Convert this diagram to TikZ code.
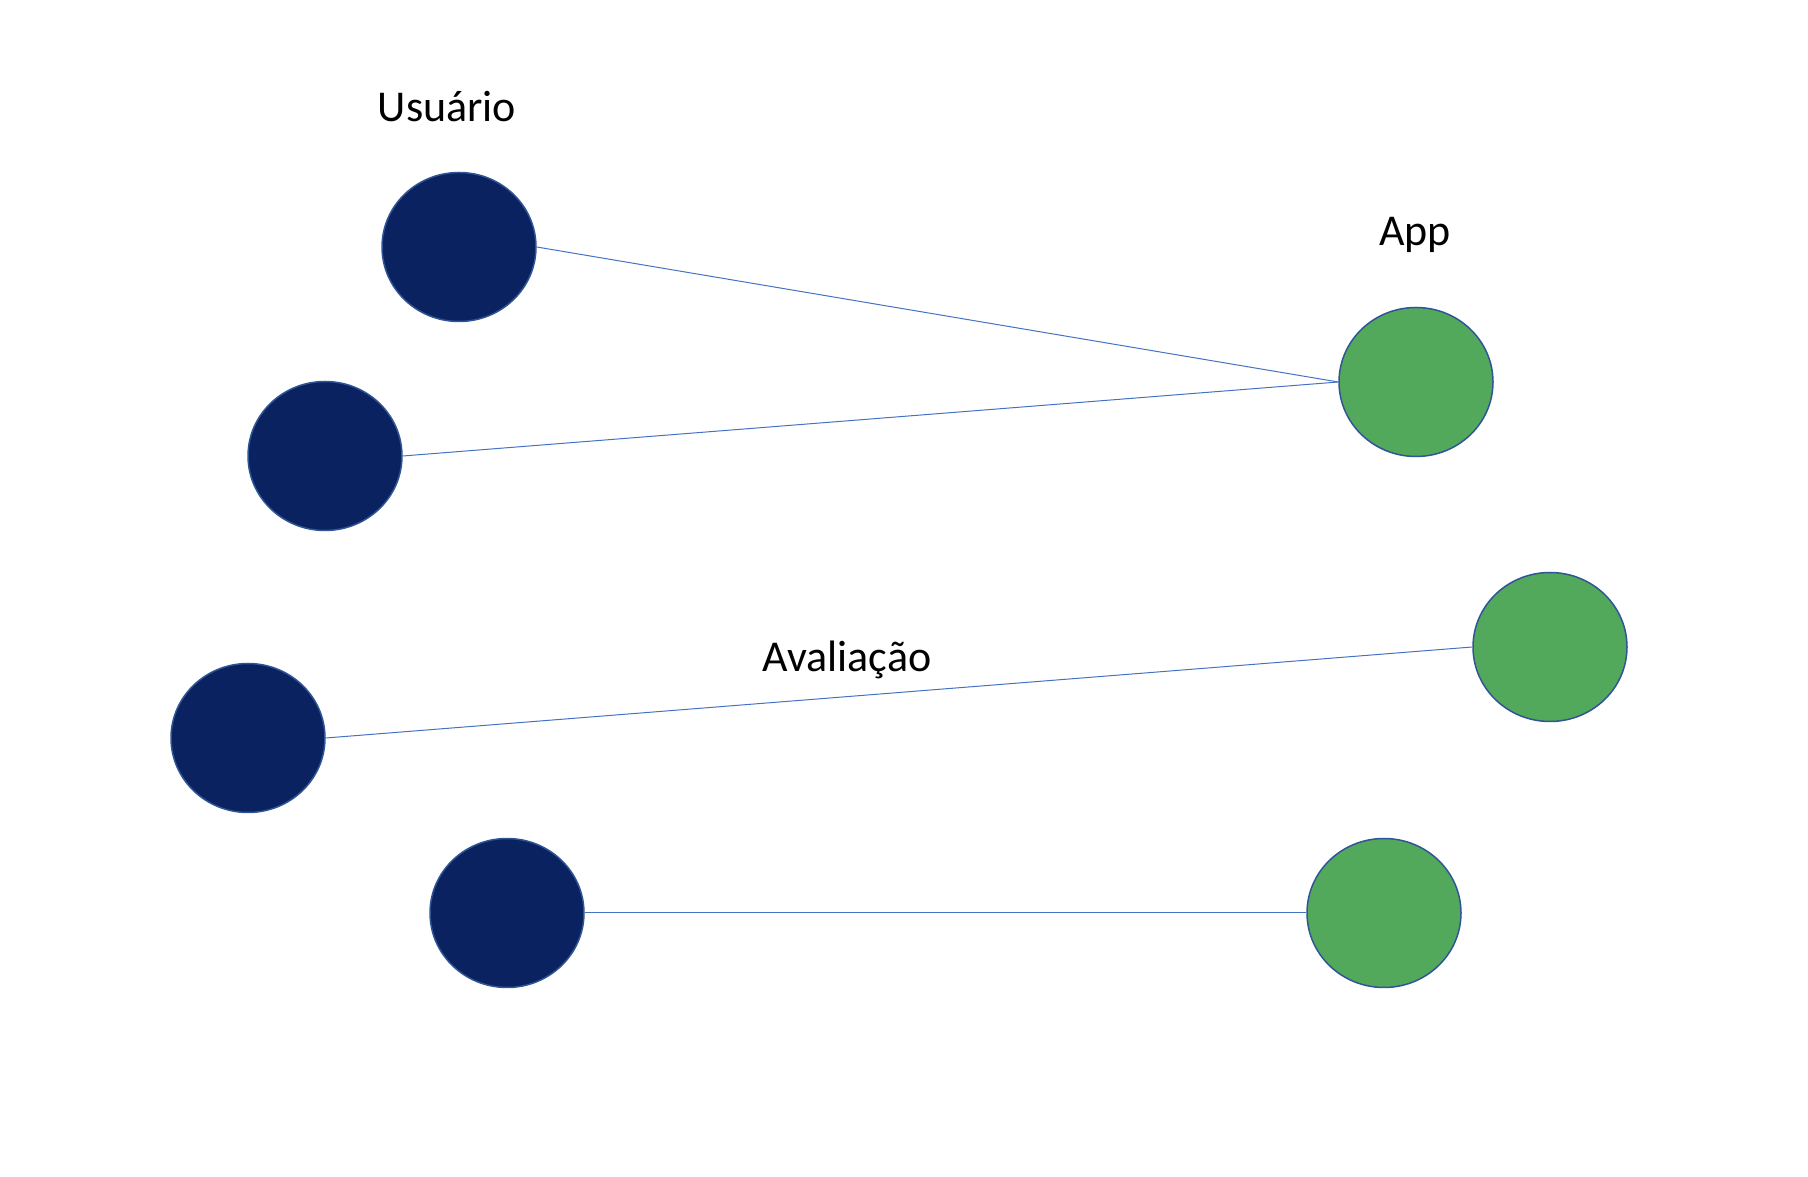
\documentclass[tikz,border=0pt]{standalone}
\usepackage{fontspec}
\setmainfont{Carlito}
\usetikzlibrary{shapes.geometric}
\definecolor{navy}{HTML}{0A2360}
\definecolor{leaf}{HTML}{53A95B}
\definecolor{rim}{HTML}{2F5597}
\definecolor{wire}{HTML}{4472C4}
\begin{document}
\begin{tikzpicture}[x=1pt,y=1pt,
    user/.style={ellipse, draw=rim, line width=1.5pt, fill=navy, minimum width=154pt, minimum height=149pt, inner sep=0pt},
    app/.style={user, fill=leaf},
    tag/.style={anchor=base, font=\fontsize{44}{48}\selectfont},
    link/.style={draw=wire, line width=1pt}]
    \useasboundingbox (0,0) rectangle (1808,1176);
    \node[user] (u1) at (459,929) {};
    \node[user] (u2) at (325,720) {};
    \node[user] (u3) at (248,438) {};
    \node[user] (u4) at (507,263) {};
    \node[app] (a1) at (1416,794) {};
    \node[app] (a2) at (1550,529) {};
    \node[app] (a3) at (1384,263) {};
    \node[tag] (usuario) at (447,1054) {Usuário};
    \node[tag] (applbl) at (1415,930) {App};
    \node[tag] (aval) at (847,504) {Avaliação};
    \draw[link] (u1.east) -- (a1.west);
    \draw[link] (u2.east) -- (a1.west);
    \draw[link] (u3.east) -- (a2.west);
    \draw[link] (u4.east) -- (a3.west);
\end{tikzpicture}
\end{document}
